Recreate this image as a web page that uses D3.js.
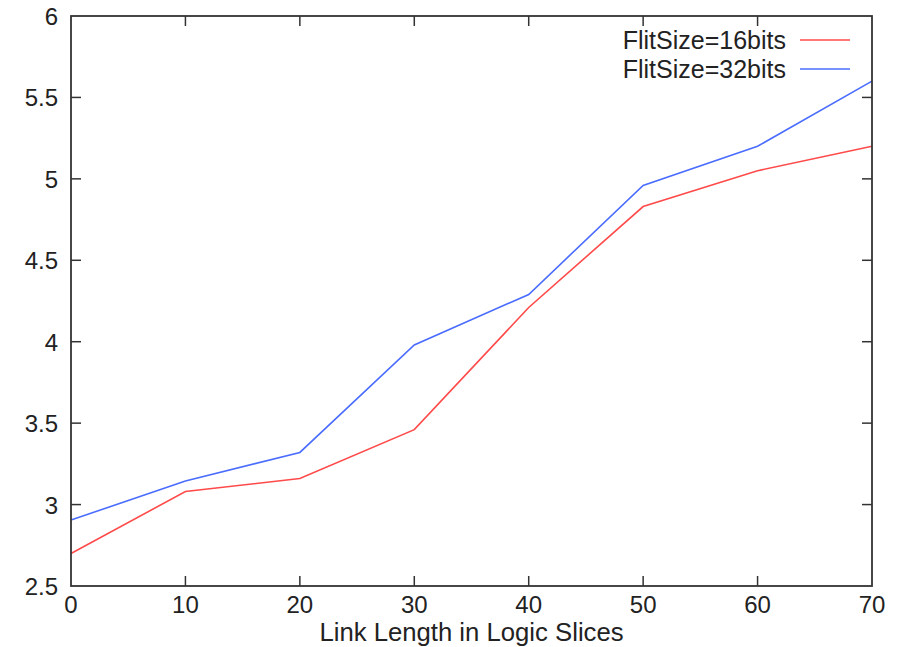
<!DOCTYPE html>
<html>
<head>
<meta charset="utf-8">
<script src="https://cdn.jsdelivr.net/npm/d3@7"></script>
<style>
  html, body { margin: 0; padding: 0; background: #fff; }
  svg text { font-family: "Liberation Sans", Arial, sans-serif; fill: #222; }
</style>
</head>
<body>
<svg id="chart" width="898" height="647"></svg>
<script>
// Link length (logic slices) on the x axis
const linkLengths = [0, 10, 20, 30, 40, 50, 60, 70];
// Measured values for each flit size
const flit16 = [2.70, 3.08, 3.16, 3.46, 4.21, 4.83, 5.05, 5.20];
const flit32 = [2.905, 3.145, 3.32, 3.98, 4.29, 4.96, 5.20, 5.60];
const seriesNames = ["FlitSize=16bits", "FlitSize=32bits"];
const seriesColors = ["#ff4a4a", "#4a6cff"];
const xTicks = [0, 10, 20, 30, 40, 50, 60, 70];
const yTicks = [2.5, 3, 3.5, 4, 4.5, 5, 5.5, 6];

const svg = d3.select("#chart");
const plotLeft = 71, plotRight = 872, plotTop = 16, plotBottom = 586;

const x = d3.scaleLinear().domain([0, 70]).range([plotLeft, plotRight]);
const y = d3.scaleLinear().domain([2.5, 6]).range([plotBottom, plotTop]);

const tickLen = 10;
const frameColor = "#333";

// Mirrored tick marks on all four sides
const g = svg.append("g");
xTicks.forEach(t => {
  if (t === 0 || t === 70) return;
  g.append("line").attr("x1", x(t)).attr("x2", x(t)).attr("y1", plotBottom).attr("y2", plotBottom - tickLen)
    .attr("stroke", frameColor).attr("stroke-width", 1.5);
  g.append("line").attr("x1", x(t)).attr("x2", x(t)).attr("y1", plotTop).attr("y2", plotTop + tickLen)
    .attr("stroke", frameColor).attr("stroke-width", 1.5);
});
yTicks.forEach(t => {
  if (t === 2.5 || t === 6) return;
  g.append("line").attr("x1", plotLeft).attr("x2", plotLeft + tickLen).attr("y1", y(t)).attr("y2", y(t))
    .attr("stroke", frameColor).attr("stroke-width", 1.5);
  g.append("line").attr("x1", plotRight).attr("x2", plotRight - tickLen).attr("y1", y(t)).attr("y2", y(t))
    .attr("stroke", frameColor).attr("stroke-width", 1.5);
});

// Tick labels
svg.append("g").selectAll("text").data(xTicks).join("text")
  .attr("x", d => x(d)).attr("y", plotBottom + 27)
  .attr("text-anchor", "middle").attr("font-size", 24)
  .text(d => d);
svg.append("g").selectAll("text").data(yTicks).join("text")
  .attr("x", plotLeft - 13).attr("y", d => y(d) + 9)
  .attr("text-anchor", "end").attr("font-size", 24)
  .text(d => d);

// Axis title
svg.append("text").attr("x", (plotLeft + plotRight) / 2).attr("y", 641)
  .attr("text-anchor", "middle").attr("font-size", 25.7)
  .text("Link Length in Logic Slices");

// Data lines
const line = d3.line().x((d, i) => x(linkLengths[i])).y(d => y(d));
[flit16, flit32].forEach((s, k) => {
  svg.append("path").datum(s).attr("d", line)
    .attr("fill", "none").attr("stroke", seriesColors[k]).attr("stroke-width", 1.6);
});

// Frame
svg.append("rect").attr("x", plotLeft).attr("y", plotTop).attr("width", plotRight - plotLeft).attr("height", plotBottom - plotTop)
  .attr("fill", "none").attr("stroke", frameColor).attr("stroke-width", 1.8);

// Legend
seriesNames.forEach((name, k) => {
  const ly = 40 + k * 29;
  svg.append("text").attr("x", 786).attr("y", ly + 9).attr("text-anchor", "end")
    .attr("font-size", 25).text(name);
  svg.append("line").attr("x1", 800).attr("x2", 850).attr("y1", ly).attr("y2", ly)
    .attr("stroke", seriesColors[k]).attr("stroke-width", 1.6);
});
</script>
</body>
</html>
